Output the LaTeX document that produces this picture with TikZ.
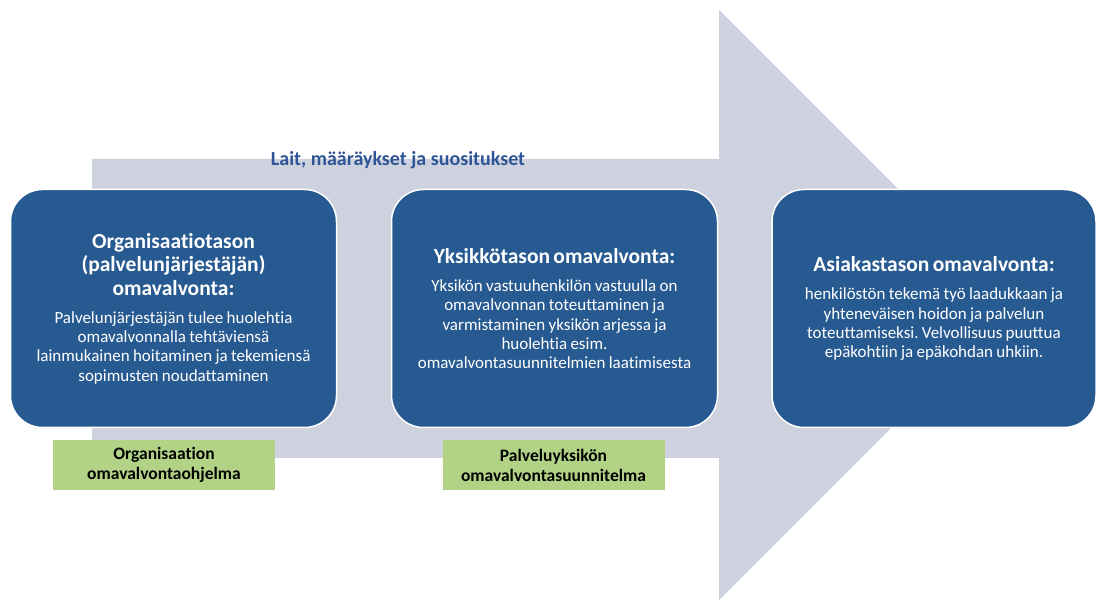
\documentclass[tikz,border=0pt]{standalone}
\usepackage{fontspec}
\setmainfont{Carlito}[Ligatures={NoCommon}]
\frenchspacing
\usetikzlibrary{positioning}
\definecolor{arrowgray}{RGB}{205,210,222}
\definecolor{levelblue}{RGB}{40,90,146}
\definecolor{plangreen}{RGB}{178,211,134}
\definecolor{lawblue}{RGB}{47,85,151}
\newcommand{\levtitle}[1]{{\fontsize{21.5}{23.5}\selectfont\bfseries #1\par}\vspace{9pt}}
\newcommand{\levbody}[1]{{\fontsize{17}{19.2}\selectfont #1\par}}
\begin{document}
\begin{tikzpicture}[x=1pt, y=-1pt,
  level/.style={rounded corners=32pt, fill=levelblue, draw=white, line width=1.5pt, minimum width=326pt, minimum height=238pt, text=white, text width=320pt, align=center, inner sep=0pt},
  plan/.style={fill=plangreen, minimum width=222pt, minimum height=50pt, align=center, inner sep=0pt, font=\fontsize{17.5}{20}\selectfont\bfseries}]
  \useasboundingbox (0,0) rectangle (1096,601);
  % big arrow behind
  \fill[arrowgray] (92,159) -- (719,159) -- (719,10) -- (1014,305) -- (719,600) -- (719,458) -- (92,458) -- cycle;
  \node[text=lawblue, font=\fontsize{20}{22}\selectfont\bfseries] (laws) at (398,160) {Lait, määräykset ja suositukset};
  % levels
  \node[level] (org) at (173.5,308.5) {\levtitle{Organisaatiotason\\(palvelunjärjestäjän)\\omavalvonta:}\levbody{Palvelunjärjestäjän tulee huolehtia\\omavalvonnalla tehtäviensä\\lainmukainen hoitaminen ja tekemiensä\\sopimusten noudattaminen}};
  \node[level] (unit) at (554.5,308.5) {\levtitle{Yksikkötason omavalvonta:}\levbody{Yksikön vastuuhenkilön vastuulla on\\omavalvonnan toteuttaminen ja\\varmistaminen yksikön arjessa ja\\huolehtia esim.\\omavalvontasuunnitelmien laatimisesta}};
  \node[level, minimum width=324pt] (client) at (934,308.5) {\levtitle{Asiakastason omavalvonta:}\levbody{henkilöstön tekemä työ laadukkaan ja\\yhteneväisen hoidon ja palvelun\\toteuttamiseksi. Velvollisuus puuttua\\epäkohtiin ja epäkohdan uhkiin.}};
  % plans
  \node[plan] (orgplan) at (164,465) {Organisaation\\omavalvontaohjelma};
  \node[plan] (unitplan) at (553.5,465) {Palveluyksikön\\omavalvontasuunnitelma};
\end{tikzpicture}
\end{document}
